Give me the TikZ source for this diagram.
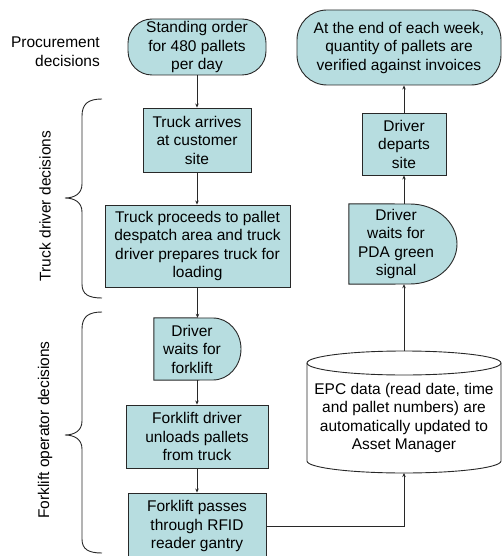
\documentclass[tikz,border=0pt]{standalone}
\usepackage{fontspec}
\setmainfont{Liberation Sans}
\usetikzlibrary{arrows.meta,backgrounds}
\definecolor{boxfill}{RGB}{183,221,224}
\definecolor{edge}{RGB}{40,40,40}
\begin{document}
\begin{tikzpicture}[x=1pt,y=1pt,
  txt/.style={font=\fontsize{15.5}{18.5}\selectfont, align=center, inner sep=0pt, text=black},
  procbox/.style={txt, draw=edge, fill=boxfill, line width=0.9pt, rectangle},
  ghost/.style={txt, draw=none, fill=none, rectangle},
  conn/.style={draw=edge, line width=0.7pt, -{Stealth[length=4pt,width=3.5pt]}},
  bracecurve/.style={draw=edge, line width=0.9pt},
  shapeline/.style={draw=edge, fill=boxfill, line width=0.9pt},
  cylline/.style={draw=edge, fill=white, line width=0.9pt},
  sidelabel/.style={font=\fontsize{15.5}{18.5}\selectfont, inner sep=0pt}
]
\useasboundingbox (0,0) rectangle (502,-556);
\clip (0,0) rectangle (502,-556);

% left column
\node[procbox, rounded corners=24pt, minimum width=138pt, minimum height=56pt] (standing) at (197,-47) {Standing order\\for 480 pallets\\per day};
\node[procbox, minimum width=108pt, minimum height=64pt] (arrives) at (197,-140) {Truck arrives\\at customer\\site};
\node[procbox, minimum width=185pt, minimum height=82pt] (proceeds) at (197.5,-246) {Truck proceeds to pallet\\despatch area and truck\\driver prepares truck for\\loading};
\node[ghost, minimum width=76pt, minimum height=62pt] (waitfork) at (192,-349) {Driver\\waits for\\forklift};
\node[procbox, minimum width=142pt, minimum height=63pt] (unload) at (197,-436.5) {Forklift driver\\unloads pallets\\from truck};
\node[procbox, minimum width=138pt, minimum height=66pt] (passes) at (197,-526) {Forklift passes\\through RFID\\reader gantry};

% right column
\node[procbox, rounded corners=30pt, minimum width=204pt, minimum height=75pt] (weekend) at (399,-47.5) {At the end of each week,\\quantity of pallets are\\verified against invoices};
\node[procbox, minimum width=84pt, minimum height=62pt] (departs) at (404,-144) {Driver\\departs\\site};
\node[ghost, minimum width=94pt, minimum height=80pt] (pda) at (396,-244) {Driver\\waits for\\PDA green\\signal};
\node[ghost, minimum width=194pt, minimum height=110pt] (epc) at (404,-418) {EPC data (read date, time\\and pallet numbers) are\\automatically updated to\\Asset Manager};
\coordinate (epctop) at (404,-351);
\coordinate (epcbot) at (404,-473);

\begin{scope}[on background layer]
  \path[shapeline] (waitfork.north west) -- (213,-318) arc[start angle=90,end angle=-90,x radius=28pt,y radius=31pt] -- (waitfork.south west) -- cycle;
  \path[shapeline] (pda.north west) -- (410,-204) arc[start angle=90,end angle=-90,x radius=47pt,y radius=40pt] -- (pda.south west) -- cycle;
  \path[cylline] (307,-363) -- (307,-461) arc[start angle=180,end angle=360,x radius=97pt,y radius=12pt] -- (501,-363) arc[start angle=0,end angle=180,x radius=97pt,y radius=12pt] -- cycle;
  \draw[draw=edge, line width=0.9pt] (307,-363) arc[start angle=180,end angle=360,x radius=97pt,y radius=12pt];
\end{scope}

% connectors
\draw[conn] (standing.south) -- (arrives.north);
\draw[conn] (arrives.south) -- (arrives.south |- proceeds.north);
\draw[conn] (proceeds.south) -- (proceeds.south |- waitfork.north);
\draw[conn] (unload.north |- waitfork.south) -- (unload.north);
\draw[conn] (unload.south) -- (passes.north);
\draw[conn] (passes.east) -| (epcbot);
\draw[conn] (epctop) -- (epctop |- pda.south);
\draw[conn] (departs.south |- pda.north) -- (departs.south);
\draw[conn] (departs.north) -- (departs.north |- weekend.south);

% side labels
\node[sidelabel, align=right, anchor=east] (proc) at (100,-51.5) {Procurement\\decisions};
\node[sidelabel, rotate=90] (truckdec) at (45,-206) {Truck driver decisions};
\node[sidelabel, rotate=90] (forkdec) at (45,-430) {Forklift operator decisions};

% braces
\draw[bracecurve] (102,-99) .. controls (88,-99) and (82,-104) .. (82,-116) -- (82,-184) .. controls (82,-194) and (74,-198) .. (65,-198) .. controls (74,-198) and (82,-202) .. (82,-212) -- (82,-284) .. controls (82,-294) and (88,-298) .. (102,-298);
\draw[bracecurve] (102,-312) .. controls (88,-312) and (82,-317) .. (82,-329) -- (82,-421) .. controls (82,-431) and (74,-435) .. (65,-435) .. controls (74,-435) and (82,-439) .. (82,-449) -- (82,-539) .. controls (82,-549) and (88,-553) .. (102,-553);
\end{tikzpicture}
\end{document}
